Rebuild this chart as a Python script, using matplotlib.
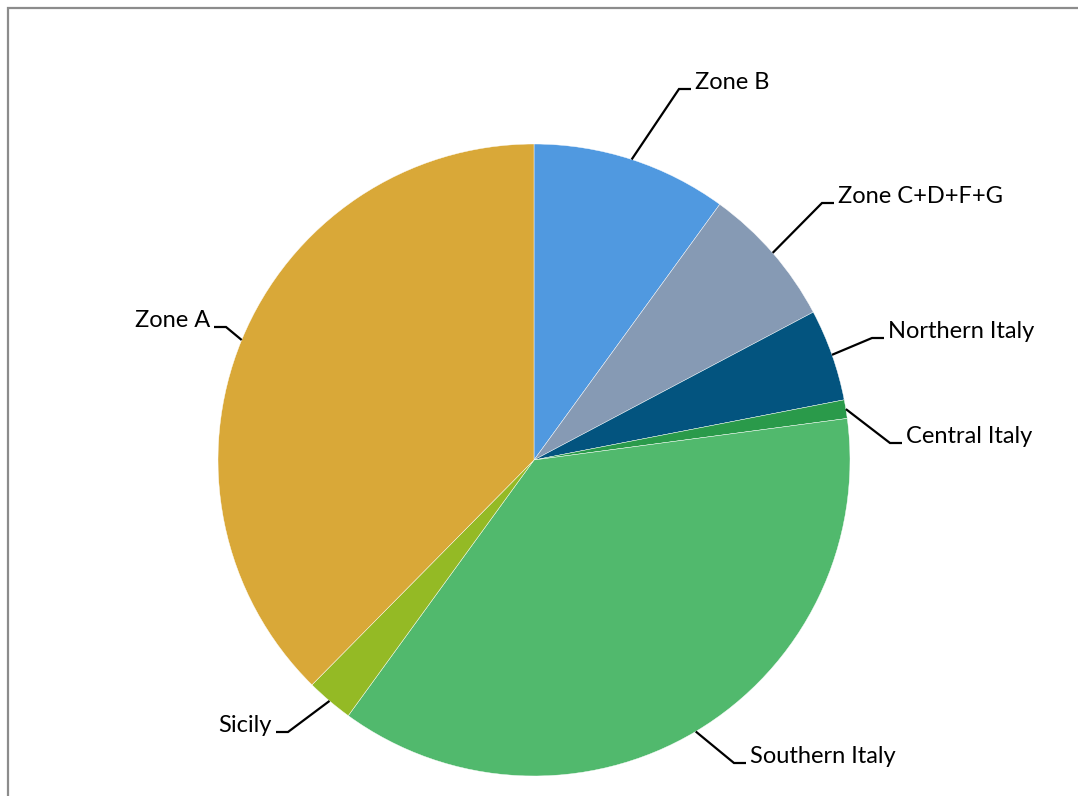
import numpy as np
import matplotlib
matplotlib.use("Agg")
import matplotlib.pyplot as plt
from matplotlib.patches import Rectangle

# share of each area (%), clockwise from 12 o'clock
areas = ["Zone B", "Zone C+D+F+G", "Northern Italy", "Central Italy",
         "Southern Italy", "Sicily", "Zone A"]
shares = [10.0, 7.25, 4.7, 0.95, 37.1, 2.4, 37.6]
colors = ["#5099e0", "#869ab4", "#03547f", "#2a9a4a",
          "#51b96d", "#94ba25", "#d9a838"]

# elbow of each leader line, in pixels from the top-left corner
elbows = [(679, 89), (822, 203), (872, 338), (890, 443),
          (734, 763), (288, 732), (226, 327)]

W, H = 1078, 796
CX, CY, R = 534, 460, 316

plt.rcParams['font.family'] = ['Lato', 'DejaVu Sans']

fig = plt.figure(figsize=(W / 100, H / 100), dpi=100)
ax = fig.add_axes([0, 0, 1, 1])

wedges, _ = ax.pie(shares, colors=colors, startangle=90, counterclock=False,
                   center=(CX, H - CY), radius=R,
                   wedgeprops=dict(edgecolor='white', linewidth=0.3))

# pie() resets the limits, so set them afterwards
ax.set_xlim(0, W)
ax.set_ylim(0, H)
ax.set_aspect('equal')
ax.axis('off')

for w, name, (ex, ey) in zip(wedges, areas, elbows):
    mid = np.deg2rad((w.theta1 + w.theta2) / 2)
    sx = CX + R * np.cos(mid)
    sy = H - CY + R * np.sin(mid)
    ey = H - ey
    right = ex > CX
    hx = ex + 12 if right else ex - 12
    ax.plot([sx, ex, hx], [sy, ey, ey], color='black', lw=1.6,
            solid_capstyle='butt', solid_joinstyle='miter')
    tx = hx + 4 if right else hx - 4
    ax.text(tx, ey, name, fontsize=17,
            ha='left' if right else 'right', va='baseline')

# outer frame
fig.patches.append(Rectangle((8 / W, -0.05), 1.1, 1.05 - 8 / H,
                             transform=fig.transFigure, fill=False,
                             edgecolor='#8c8c8c', linewidth=1.6))

fig.savefig("out.png", dpi=100)
